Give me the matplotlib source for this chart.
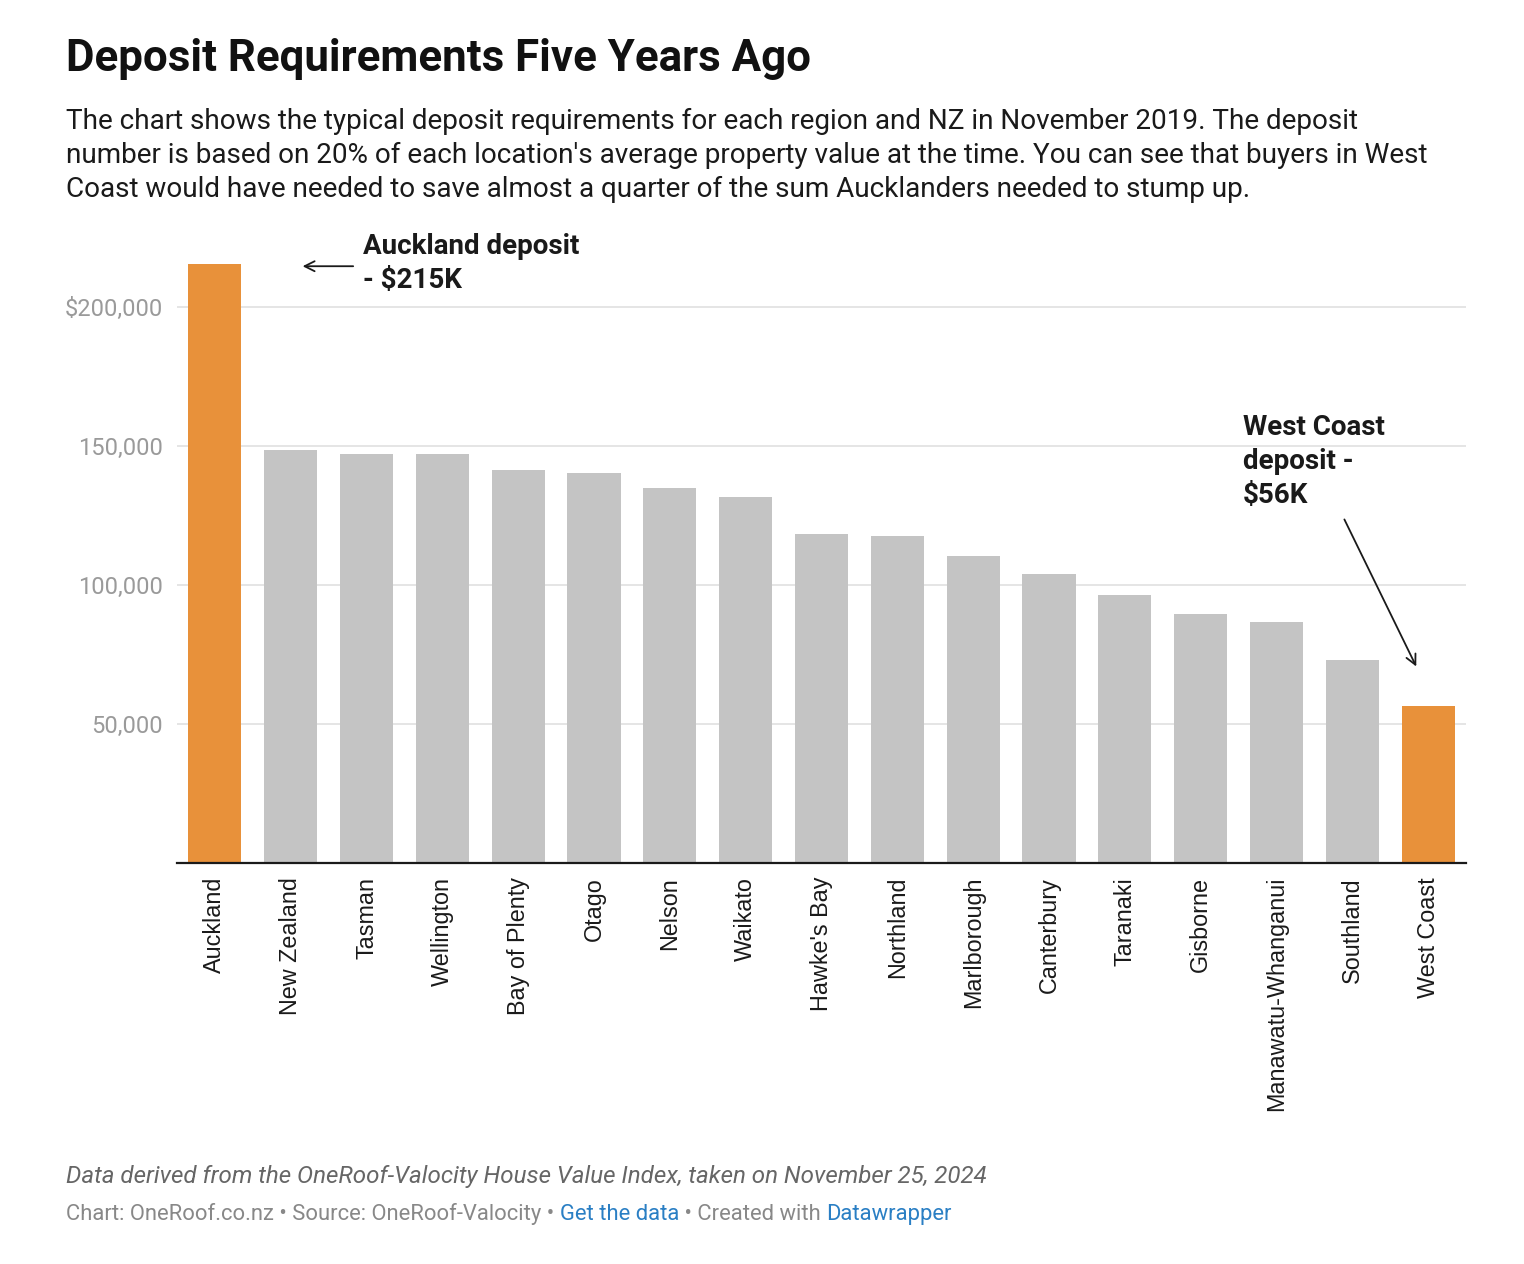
import numpy as np
import matplotlib.pyplot as plt

regions = ['Auckland', 'New Zealand', 'Tasman', 'Wellington', 'Bay of Plenty', 'Otago',
           'Nelson', 'Waikato', "Hawke's Bay", 'Northland', 'Marlborough', 'Canterbury',
           'Taranaki', 'Gisborne', 'Manawatu-Whanganui', 'Southland', 'West Coast']
deposits = [215400, 148600, 147100, 147100, 141400, 140300, 134900, 131700, 118300,
            117600, 110400, 104000, 96400, 89600, 86700, 73000, 56500]
highlight = ['Auckland', 'West Coast']
yticks = [50000, 100000, 150000, 200000]
ytick_labels = ['50,000', '100,000', '150,000', '$200,000']

W, H = 1524, 1264
fig = plt.figure(figsize=(W / 100, H / 100), dpi=100)

def px(x, y):
    return x / W, 1 - y / H

# axes placed in pixel terms
l, r, t, b = 177, 1466, 264, 863
ax = fig.add_axes([l / W, 1 - b / H, (r - l) / W, (b - t) / H])

cols = ['#e8913a' if n in highlight else '#c4c4c4' for n in regions]
x = np.arange(len(regions))
ax.bar(x, deposits, width=0.70, color=cols, zorder=2)
ax.set_xlim(-0.5, len(regions) - 0.5)
ax.set_ylim(0, 215500)

for s in ['top', 'right', 'left']:
    ax.spines[s].set_visible(False)
ax.spines['bottom'].set_color('#1a1a1a')
ax.spines['bottom'].set_linewidth(1.6)
ax.spines['bottom'].set_zorder(3)

ax.set_yticks(yticks)
ax.set_yticklabels(ytick_labels, fontfamily='Roboto', fontsize=17, color='#9a9a9a')
ax.tick_params(axis='y', length=0, pad=10)
ax.grid(axis='y', color='#e3e3e3', linewidth=1.3, zorder=0)

ax.set_xticks(x)
ax.set_xticklabels(regions, rotation=90, fontfamily='Liberation Sans', fontsize=16.8,
                   color='#1a1a1a', va='top')
ax.tick_params(axis='x', length=0, pad=10)

# annotations
ax.annotate('', xy=(1.12, 214700), xytext=(1.86, 214700),
            arrowprops=dict(arrowstyle='->', color='#1a1a1a', lw=1.3, mutation_scale=18),
            annotation_clip=False)
ax.text(1.95, 215800, 'Auckland deposit\n- $215K', fontfamily='Roboto', fontweight='bold',
        fontsize=20, color='#1a1a1a', va='center', ha='left', linespacing=1.33)

ax.annotate('', xy=(15.86, 69800), xytext=(14.88, 124500),
            arrowprops=dict(arrowstyle='->', color='#1a1a1a', lw=1.3, mutation_scale=18),
            annotation_clip=False)
ax.text(13.56, 161500, 'West Coast\ndeposit -\n$56K', fontfamily='Roboto', fontweight='bold',
        fontsize=20, color='#1a1a1a', va='top', ha='left', linespacing=1.33)

# header
fig.text(*px(66, 59), 'Deposit Requirements Five Years Ago', fontfamily='Roboto',
         fontweight='bold', fontsize=31.6, color='#111111', va='center', ha='left')
sub = ("The chart shows the typical deposit requirements for each region and NZ in November 2019. The deposit\n"
       "number is based on 20% of each location's average property value at the time. You can see that buyers in West\n"
       "Coast would have needed to save almost a quarter of the sum Aucklanders needed to stump up.")
fig.text(*px(66, 108), sub, fontfamily='Roboto', fontsize=20.1, color='#1a1a1a',
         va='top', ha='left', linespacing=1.33)

# footer
fig.text(*px(66, 1176), 'Data derived from the OneRoof-Valocity House Value Index, taken on November 25, 2024',
         fontfamily='Roboto', fontstyle='italic', fontsize=17.4, color='#666666', va='center', ha='left')

parts = [('Chart: OneRoof.co.nz • Source: OneRoof-Valocity • ', '#888888'),
         ('Get the data', '#2a7fc4'),
         (' • Created with ', '#888888'),
         ('Datawrapper', '#2a7fc4')]
fig.canvas.draw()
rend = fig.canvas.get_renderer()
xpos = 66
for txt, c in parts:
    tt = fig.text(*px(xpos, 1220), txt, fontfamily='Roboto', fontsize=15.8, color=c,
                  va='baseline', ha='left')
    xpos += tt.get_window_extent(renderer=rend).width

fig.savefig('out.png', dpi=100, facecolor='white')
